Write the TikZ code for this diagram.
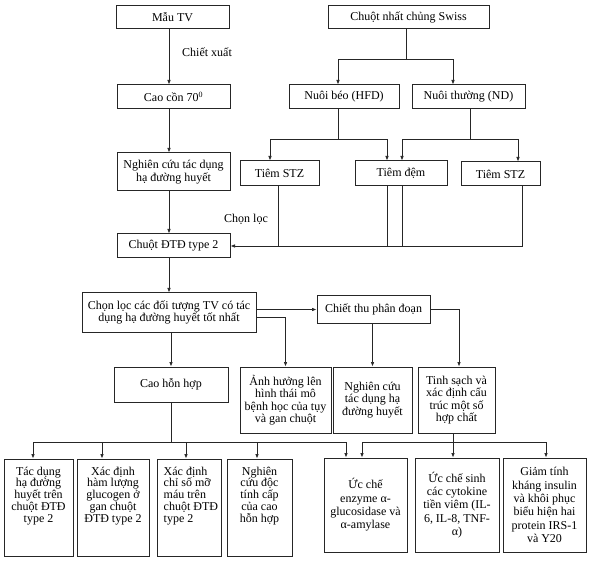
\documentclass[tikz,border=0pt]{standalone}
\usepackage{fontspec}
\setmainfont{Liberation Serif}
\usetikzlibrary{arrows.meta}
\begin{document}
\begin{tikzpicture}[x=1pt,y=-1pt,
  box/.style={draw=black!85, line width=1pt, inner sep=1pt, align=center, font=\fontsize{12}{12.5}\selectfont},
  txtA/.style={inner sep=0pt, align=center, font=\fontsize{12}{11.8}\selectfont},
  txtB/.style={inner sep=0pt, align=center, font=\fontsize{12}{13.3}\selectfont},
  arr/.style={draw=black!85, -{Latex[length=4.5pt,width=3.6pt]}, line width=0.7pt},
  ln/.style={draw=black!85, line width=0.7pt},
  lbl/.style={inner sep=0pt, anchor=west, font=\fontsize{12}{12.5}\selectfont}]
\useasboundingbox (0,0) rectangle (592,564);
\fill[white] (0,0) rectangle (592,564);

% left column
\coordinate (ax) at (169,0);
\node[box, minimum width=113pt, minimum height=23pt] (mau) at (172.5,17.5) {Mẫu TV};
\node[box, minimum width=113pt, minimum height=24pt] (cao) at (173.5,97) {Cao cồn 70\textsuperscript{0}};
\node[box, minimum width=113pt, minimum height=38pt] (ngh) at (173.5,172) {Nghiên cứu tác dụng\\hạ đường huyết};
\node[box, minimum width=113pt, minimum height=24pt] (dtd) at (173.5,246) {Chuột ĐTĐ type 2};
\node[box, minimum width=174pt, minimum height=39pt] (chon) at (169,312.5) {Chọn lọc các đối tượng TV có tác\\dụng hạ đường huyết tốt nhất};

% right top
\node[box, minimum width=161pt, minimum height=23pt] (swiss) at (408.5,17.5) {Chuột nhất chủng Swiss};
\node[box, minimum width=110pt, minimum height=24pt] (beo) at (344,97) {Nuôi béo (HFD)};
\node[box, minimum width=113pt, minimum height=24pt] (thuong) at (468.5,97) {Nuôi thường (ND)};
\node[box, minimum width=79pt, minimum height=25pt] (stz1) at (279.5,173.5) {Tiêm STZ};
\node[box, minimum width=92pt, minimum height=25pt] (dem) at (401,173.5) {Tiêm đệm};
\node[box, minimum width=79pt, minimum height=24pt] (stz2) at (500.5,174) {Tiêm STZ};

% middle row
\node[box, minimum width=113pt, minimum height=27pt] (chiet) at (373.5,309.5) {Chiết thu phân đoạn};
\node[box, minimum width=114pt, minimum height=35pt] (hon) at (171,384.5) {Cao hỗn hợp};
\node[box, minimum width=91pt, minimum height=66pt] (anh) at (285.5,400) {Ảnh hưởng lên\\hình thái mô\\bệnh học của tụy\\và gan chuột};
\node[box, minimum width=79pt, minimum height=66pt] (ngh2) at (372.5,400) {Nghiên cứu\\tác dụng hạ\\đường huyết};
\node[box, minimum width=77pt, minimum height=66pt] (tinh) at (456.5,400) {Tinh sạch và\\xác định cấu\\trúc một số\\hợp chất};

% bottom row
\node[box, minimum width=69pt, minimum height=97pt] (b1) at (38.5,507.5) {};
\node[box, minimum width=72pt, minimum height=97pt] (b2) at (113,507.5) {};
\node[box, minimum width=64pt, minimum height=97pt] (b3) at (189,507.5) {};
\node[box, minimum width=65pt, minimum height=97pt] (b4) at (259.5,507.5) {};
\node[txtA, anchor=north] (b1t) at ([yshift=-8pt]b1.north) {Tác dụng\\hạ đường\\huyết trên\\chuột ĐTĐ\\type 2};
\node[txtA, anchor=north] (b2t) at ([yshift=-8pt]b2.north) {Xác định\\hàm lượng\\glucogen ở\\gan chuột\\ĐTĐ type 2};
\node[txtA, anchor=north west, align=left] (b3t) at ([xshift=7pt,yshift=-8pt]b3.north west) {Xác định\\chỉ số mỡ\\máu trên\\chuột ĐTĐ\\type 2};
\node[txtA, anchor=north] (b4t) at ([yshift=-8pt]b4.north) {Nghiên\\cứu độc\\tính cấp\\của cao\\hỗn hợp};
\node[box, txtB, minimum width=83pt, minimum height=94pt] (b5) at (365.5,505) {Ức chế\\enzyme α-\\glucosidase và\\α-amylase};
\node[box, txtB, minimum width=84pt, minimum height=94pt] (b6) at (457,505) {Ức chế sinh\\các cytokine\\tiền viêm (IL-\\6, IL-8, TNF-\\α)};
\node[box, txtB, minimum width=83pt, minimum height=94pt] (b7) at (544.5,505) {Giảm tính\\kháng insulin\\và khôi phục\\biểu hiện hai\\protein IRS-1\\và Y20};

% labels
\node[lbl] (lx) at (182,52) {Chiết xuất};
\node[lbl] (lc) at (224,219) {Chọn lọc};

% left column arrows
\draw[arr] (mau.south -| ax) -- (cao.north -| ax);
\draw[arr] (cao.south -| ax) -- (ngh.north -| ax);
\draw[arr] (ngh.south -| ax) -- (dtd.north -| ax);
\draw[arr] (dtd.south -| ax) -- (chon.north -| ax);

% Swiss tree
\draw[ln] ([xshift=-2.5pt]swiss.south) -- ++(0,30) coordinate (j1);
\draw[arr] (j1) -| ([xshift=-6pt]beo.north);
\draw[arr] (j1) -| ([xshift=-15.5pt]thuong.north);
\draw[ln] ([xshift=-6pt]beo.south) -- ++(0,30) coordinate (j2);
\draw[arr] (j2) -| ([xshift=-9.5pt]stz1.north);
\draw[arr] (j2) -| ([xshift=-14pt]dem.north);
\draw[ln] ([xshift=1.5pt]thuong.south) -- ++(0,30) coordinate (j3);
\draw[arr] (j3) -| ([xshift=1pt]dem.north);
\draw[arr] (j3) -| ([xshift=17.5pt]stz2.north);

% collect to Chuot DTD
\draw[arr] ([xshift=21.5pt]stz2.south) |- (dtd.east);
\draw[ln] ([xshift=-1.5pt]stz1.south) -- ([xshift=-1.5pt]stz1.south |- dtd.east);
\draw[ln] ([xshift=-14pt]dem.south) -- ([xshift=-14pt]dem.south |- dtd.east);
\draw[ln] ([xshift=1pt]dem.south) -- ([xshift=1pt]dem.south |- dtd.east);

% chon outputs
\draw[arr] (chon.east |- chiet.west) -- (chiet.west);
\draw[arr] ([yshift=-4.5pt]chon.east) -| (anh.north);
\draw[arr] (chon.south -| hon.north) -- (hon.north);
\draw[arr] (chiet.south -| ngh2.north) -- (ngh2.north);
\draw[arr] (chiet.east) -| ([xshift=2.5pt]tinh.north);

% cao hon hop bus
\draw[ln] (hon.south) -- ++(0,40) coordinate (j4);
\draw[arr] (j4) -| ([xshift=-5.5pt]b1.north);
\draw[arr] (j4) -| ([xshift=-11pt]b2.north);
\draw[arr] (j4) -| ([xshift=-3pt]b3.north);
\draw[arr] (j4) -| ([xshift=-2.5pt]b4.north);
\draw[arr] (j4) -| ([xshift=-19.5pt]b5.north);

% tinh sach bus
\draw[ln] ([xshift=-3.5pt]tinh.south) -- ++(0,9) coordinate (j5);
\draw[arr] (j5) -- (j5 |- b6.north);
\draw[arr] (j5) -| ([xshift=-3.5pt]b5.north);
\draw[arr] (j5) -| ([xshift=1.5pt]b7.north);
\end{tikzpicture}
\end{document}
